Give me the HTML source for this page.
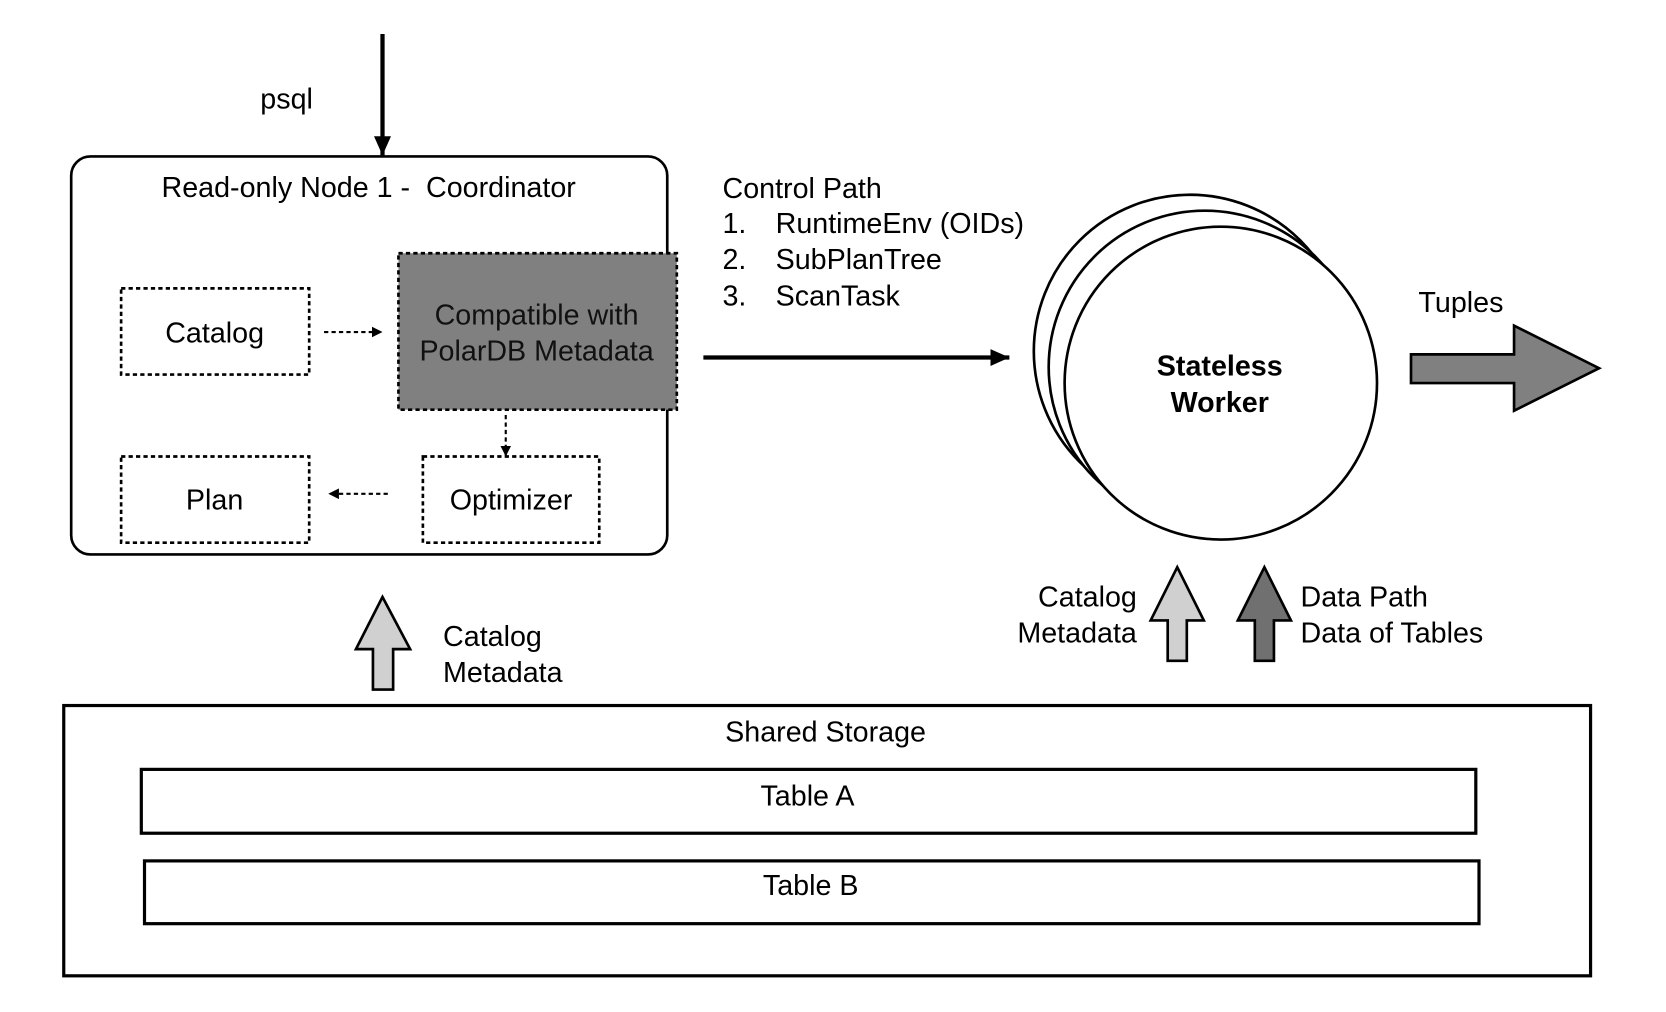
<!DOCTYPE html>
<html><head><meta charset="utf-8"><style>html,body{margin:0;padding:0;background:#fff}svg{display:block}</style></head>
<body>
<svg width="1666" height="1012" viewBox="0 0 1568 951" preserveAspectRatio="none" xmlns="http://www.w3.org/2000/svg" font-family="Liberation Sans, Arial, sans-serif" font-size="27" fill="#000">
<defs>
<marker id="ah" markerWidth="10" markerHeight="10" refX="9" refY="5" orient="auto" markerUnits="userSpaceOnUse"><path d="M0,0 L10,5 L0,10 Z"/></marker>
<marker id="ah2" markerWidth="20" markerHeight="16" refX="18" refY="8" orient="auto" markerUnits="userSpaceOnUse"><path d="M0,0 L18,8 L0,16 Z"/></marker>
</defs>
<line x1="360" y1="32" x2="360" y2="146" stroke="#000" stroke-width="4" marker-end="url(#ah2)"/>
<text x="245" y="102">psql</text>
<rect x="67" y="147" width="561" height="374" rx="18" fill="none" stroke="#000" stroke-width="2.5"/>
<text x="347" y="185" text-anchor="middle" xml:space="preserve">Read-only Node 1 -  Coordinator</text>
<rect x="114" y="271" width="177" height="81" fill="none" stroke="#000" stroke-width="2.5" stroke-dasharray="4,3"/>
<text x="202" y="322" text-anchor="middle">Catalog</text>
<line x1="305" y1="312" x2="359" y2="312" stroke="#000" stroke-width="2" stroke-dasharray="4,3" marker-end="url(#ah)"/>
<rect x="375" y="238" width="262" height="147" fill="#808080" stroke="#000" stroke-width="2.5" stroke-dasharray="4,3"/>
<text x="505" y="305" text-anchor="middle" fill="#111">Compatible with</text>
<text x="505" y="339" text-anchor="middle" fill="#111">PolarDB Metadata</text>
<line x1="476" y1="390" x2="476" y2="428" stroke="#000" stroke-width="2" stroke-dasharray="4,3" marker-end="url(#ah)"/>
<rect x="114" y="429" width="177" height="81" fill="none" stroke="#000" stroke-width="2.5" stroke-dasharray="4,3"/>
<text x="202" y="479" text-anchor="middle">Plan</text>
<rect x="398" y="429" width="166" height="81" fill="none" stroke="#000" stroke-width="2.5" stroke-dasharray="4,3"/>
<text x="481" y="479" text-anchor="middle">Optimizer</text>
<line x1="365" y1="464" x2="310" y2="464" stroke="#000" stroke-width="2" stroke-dasharray="4,3" marker-end="url(#ah)"/>
<line x1="662" y1="336" x2="950" y2="336" stroke="#000" stroke-width="4" marker-end="url(#ah2)"/>
<text x="680" y="186">Control Path</text>
<text x="680" y="219">1.</text><text x="730" y="219">RuntimeEnv (OIDs)</text>
<text x="680" y="253">2.</text><text x="730" y="253">SubPlanTree</text>
<text x="680" y="287">3.</text><text x="730" y="287">ScanTask</text>
<circle cx="1120" cy="330" r="147" fill="#fff" stroke="#000" stroke-width="2.5"/>
<circle cx="1134" cy="345" r="147" fill="#fff" stroke="#000" stroke-width="2.5"/>
<circle cx="1149" cy="360" r="147" fill="#fff" stroke="#000" stroke-width="2.5"/>
<text x="1148" y="353" text-anchor="middle" font-weight="bold">Stateless</text>
<text x="1148" y="387" text-anchor="middle" font-weight="bold">Worker</text>
<text x="1375" y="293" text-anchor="middle">Tuples</text>
<path d="M1328,333 L1425,333 L1425,306 L1505,346 L1425,386 L1425,360 L1328,360 Z" fill="#808080" stroke="#000" stroke-width="2.5"/>
<path d="M1108,533 L1133,583 L1117,583 L1117,621 L1099,621 L1099,583 L1083,583 Z" fill="#d0d0d0" stroke="#000" stroke-width="2.5"/>
<path d="M1190,533 L1215,583 L1199,583 L1199,621 L1181,621 L1181,583 L1165,583 Z" fill="#707070" stroke="#000" stroke-width="2.5"/>
<text x="1070" y="570" text-anchor="end">Catalog</text>
<text x="1070" y="604" text-anchor="end">Metadata</text>
<text x="1224" y="570">Data Path</text>
<text x="1224" y="604">Data of Tables</text>
<path d="M360,561 L386,610 L370,610 L370,648 L351,648 L351,610 L335,610 Z" fill="#d0d0d0" stroke="#000" stroke-width="2.5"/>
<text x="417" y="607">Catalog</text>
<text x="417" y="641">Metadata</text>
<rect x="60" y="663" width="1437" height="254" fill="none" stroke="#000" stroke-width="3"/>
<text x="777" y="697" text-anchor="middle">Shared Storage</text>
<rect x="133" y="723" width="1256" height="60" fill="none" stroke="#000" stroke-width="3"/>
<text x="760" y="757" text-anchor="middle">Table A</text>
<rect x="136" y="809" width="1256" height="59" fill="none" stroke="#000" stroke-width="3"/>
<text x="763" y="841" text-anchor="middle">Table B</text>
</svg>
</body></html>
